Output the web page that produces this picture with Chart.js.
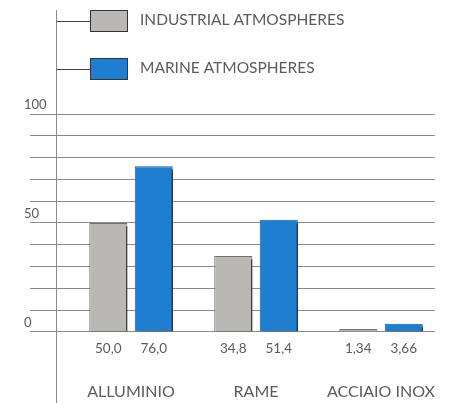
<!DOCTYPE html>
<html>
<head>
<meta charset="utf-8">
<script src="https://cdn.jsdelivr.net/npm/chart.js@4/dist/chart.umd.min.js"></script>
<style>
  html, body { margin: 0; padding: 0; background: #fff; }
  #wrap { width: 454px; height: 403px; position: relative; }
</style>
</head>
<body>
<div id="wrap"><canvas id="chart"></canvas></div>
<script>
// Corrosion rates by metal and atmosphere type
const categories = ['ALLUMINIO', 'RAME', 'ACCIAIO INOX'];
const seriesNames = ['INDUSTRIAL ATMOSPHERES', 'MARINE ATMOSPHERES'];
const industrial = [50.0, 34.8, 1.34];
const marine = [76.0, 51.4, 3.66];
const yTickLabels = [0, 50, 100];

const FONT = 'Lato, "Open Sans", sans-serif';
const TEXT = '#5b5b5b';
const LINE = '#8a8a8a';

// Decimal comma, two decimals for small values
function fmt(v) {
  return v.toFixed(v < 10 ? 2 : 1).replace('.', ',');
}

function toPoints(values) {
  return values.map((v, i) => ({ x: i + 1, y: v }));
}

// Hard drop shadow on the right side of each bar
const barShadow = {
  id: 'barShadow',
  beforeDatasetsDraw(chart) {
    const ctx = chart.ctx;
    ctx.save();
    ctx.shadowColor = '#141414';
    ctx.shadowOffsetX = 3;
    ctx.shadowOffsetY = 3;
    ctx.shadowBlur = 0;
  },
  afterDatasetsDraw(chart) {
    chart.ctx.restore();
  }
};

// Value labels under each bar, vertical axis line and the legend
const decorations = {
  id: 'decorations',
  afterDraw(chart) {
    const ctx = chart.ctx;
    const area = chart.chartArea;
    ctx.save();

    // values under bars
    ctx.fillStyle = TEXT;
    ctx.font = '13.5px ' + FONT;
    ctx.textAlign = 'center';
    ctx.textBaseline = 'middle';
    chart.data.datasets.forEach((ds, di) => {
      const meta = chart.getDatasetMeta(di);
      meta.data.forEach((el, i) => {
        ctx.fillText(fmt(ds.data[i].y), el.x, area.bottom + 17);
      });
    });

    // vertical rule
    const axisX = Math.round(area.left + 26) + 0.5;
    ctx.strokeStyle = LINE;
    ctx.lineWidth = 1;
    ctx.beginPath();
    ctx.moveTo(axisX, 10);
    ctx.lineTo(axisX, chart.height);
    ctx.stroke();

    // legend
    const boxX = axisX + 33.5;
    chart.data.datasets.forEach((ds, di) => {
      const top = 10 + di * 48;
      const mid = top + 11;
      ctx.strokeStyle = '#444';
      ctx.beginPath();
      ctx.moveTo(axisX, mid + 0.5);
      ctx.lineTo(boxX, mid + 0.5);
      ctx.stroke();
      ctx.fillStyle = ds.backgroundColor;
      ctx.fillRect(boxX, top, 38, 22);
      ctx.strokeStyle = '#333';
      ctx.strokeRect(boxX + 0.5, top + 0.5, 37, 21);
      ctx.fillStyle = TEXT;
      ctx.font = '15.5px ' + FONT;
      ctx.textAlign = 'left';
      ctx.textBaseline = 'middle';
      ctx.fillText(ds.label, boxX + 50, mid - 1);
    });
    ctx.restore();
  }
};

new Chart(document.getElementById('chart'), {
  type: 'bar',
  data: {
    datasets: [
      {
        label: seriesNames[0],
        data: toPoints(industrial),
        backgroundColor: '#b9b8b4',
        borderColor: '#707070',
        borderWidth: 1
      },
      {
        label: seriesNames[1],
        data: toPoints(marine),
        backgroundColor: '#1f7ecf',
        borderColor: '#1a5f9c',
        borderWidth: 1
      }
    ]
  },
  options: {
    responsive: true,
    maintainAspectRatio: false,
    animation: false,
    categoryPercentage: 0.728,
    barPercentage: 0.835,
    layout: { padding: { top: 114, left: 30, right: 19, bottom: -48 } },
    plugins: {
      legend: { display: false },
      tooltip: { enabled: false }
    },
    scales: {
      x: {
        type: 'linear',
        offset: false,
        min: 0.192,
        max: 3.432,
        afterBuildTicks(axis) {
          axis.ticks = categories.map((_, i) => ({ value: i + 1 }));
        },
        afterFit(axis) {
          // labels sit well inside the plot width; no side padding needed
          axis.paddingLeft = 0;
          axis.paddingRight = 0;
        },
        grid: { display: false, drawTicks: false, offset: false },
        border: { display: false },
        ticks: {
          autoSkip: false,
          maxRotation: 0,
          padding: 50,
          color: TEXT,
          font: { family: FONT, size: 16 },
          callback: (v) => categories[v - 1] ?? ''
        }
      },
      y: {
        min: 0,
        max: 100,
        grid: { color: LINE, lineWidth: 1, drawTicks: false },
        border: { display: false },
        ticks: {
          stepSize: 10,
          autoSkip: false,
          mirror: true,
          padding: -2,
          labelOffset: -9,
          color: TEXT,
          font: { family: FONT, size: 13 },
          callback: (v) => (yTickLabels.includes(v) ? String(v) : '')
        }
      }
    }
  },
  plugins: [barShadow, decorations]
});
</script>
</body>
</html>
